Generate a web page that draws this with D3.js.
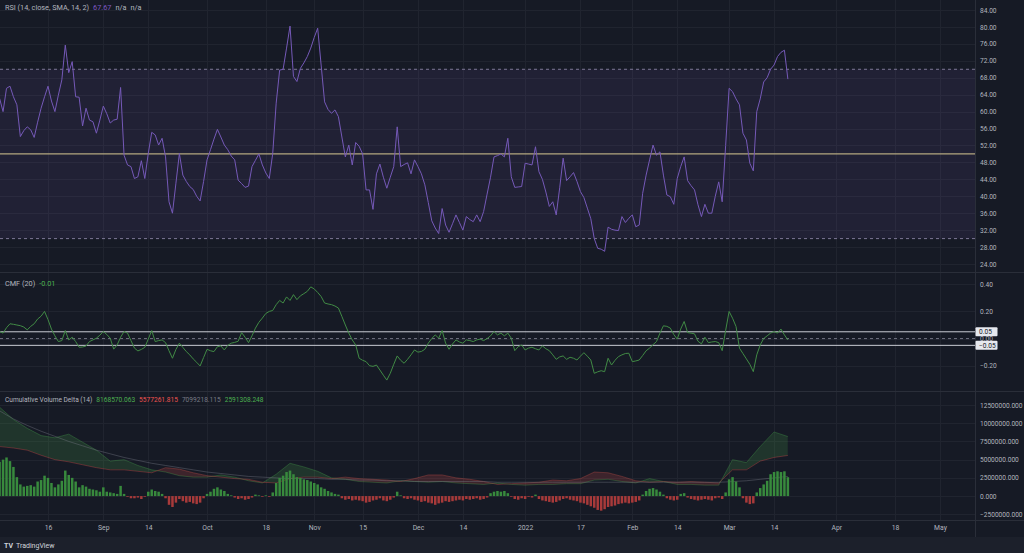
<!DOCTYPE html>
<html><head><meta charset="utf-8">
<script src="https://cdn.jsdelivr.net/npm/d3@7"></script>
<style>html,body{margin:0;padding:0;background:#161a25;overflow:hidden}svg{display:block}</style>
</head><body><svg id="c" width="1024" height="553"></svg>
<script>
// ---------------- DATA ----------------
const startDate = "2021-08-02";
const endDate = "2022-03-18";

const rsiValues = [
63.1,60.0,65.5,66.0,63.5,61.6,54.1,55.5,56.4,55.7,
53.9,57.5,60.8,63.5,66.0,62.5,60.0,63.9,67.5,75.7,
69.2,71.8,63.5,63.4,56.6,60.8,58.0,57.6,54.9,58.0,
61.3,59.5,57.3,58.0,58.2,65.7,49.7,47.4,47.0,44.2,
44.6,48.4,44.2,50.1,55.1,54.5,52.1,53.7,49.3,38.7,
36.0,43.1,50.1,45.0,43.5,42.3,41.6,40.0,38.9,43.5,
48.6,51.0,53.5,55.8,54.0,52.1,51.0,49.5,48.6,43.8,
43.0,42.1,42.4,47.0,48.5,50.0,47.4,45.5,44.2,50.1,
62.0,69.8,70.0,75.0,80.2,68.3,67.1,70.2,71.5,73.0,
75.0,77.5,79.7,71.0,62.3,60.5,59.6,60.4,58.8,54.0,
49.3,52.1,47.4,52.7,51.8,50.0,41.5,41.5,36.9,45.3,
47.6,44.5,41.9,44.5,47.0,56.4,47.0,47.5,47.9,45.3,
48.6,47.0,45.3,42.7,38.5,34.2,32.5,31.2,37.1,33.2,
31.5,33.5,35.6,33.8,32.0,35.2,34.5,34.0,35.6,34.0,
36.4,40.5,44.5,49.3,49.6,50.0,49.3,53.7,44.6,42.1,
42.2,42.3,47.8,47.6,47.4,51.7,45.8,44.0,41.0,37.6,
38.7,35.6,42.0,49.0,43.7,44.6,45.6,43.5,41.1,39.7,
37.2,34.7,30.0,27.7,27.5,27.0,32.7,32.2,32.0,31.9,
35.2,33.8,34.8,35.6,32.8,33.2,40.7,45.0,48.6,52.1,
49.7,50.5,45.0,40.3,39.9,38.1,44.2,47.0,49.3,43.7,
42.5,41.5,38.0,35.2,38.1,36.0,36.0,40.0,43.4,38.7,
52.0,65.5,64.7,63.0,61.6,54.9,53.3,47.8,46.0,60.0,
63.0,67.0,68.0,70.0,71.0,73.0,74.0,74.5,67.67
];

const cmfValues = [
0.052,0.040,0.08,0.109,0.105,0.100,0.095,0.085,0.064,0.09,
0.109,0.144,0.165,0.2,0.14,0.07,0.02,-0.022,-0.015,0.059,
-0.01,0.01,-0.022,-0.064,-0.062,-0.055,-0.022,-0.01,0.003,0.025,
0.052,0.03,0.003,-0.078,-0.047,0.01,0.052,0.04,-0.015,-0.07,
-0.091,-0.08,-0.065,-0.004,0.059,-0.022,-0.015,-0.01,-0.03,-0.09,
-0.145,-0.08,-0.034,-0.065,-0.096,-0.12,-0.15,-0.175,-0.202,-0.14,
-0.079,-0.09,-0.096,-0.06,-0.054,-0.084,-0.05,-0.034,-0.028,-0.02,
0.044,0.01,-0.03,0.02,0.077,0.12,0.151,0.185,0.2,0.207,
0.25,0.281,0.262,0.307,0.281,0.324,0.287,0.315,0.331,0.348,
0.381,0.366,0.34,0.31,0.262,0.255,0.25,0.24,0.225,0.163,
0.1,0.04,-0.01,-0.047,-0.145,-0.16,-0.17,-0.2,-0.205,-0.195,
-0.232,-0.27,-0.306,-0.256,-0.19,-0.128,-0.16,-0.182,-0.153,-0.12,
-0.084,-0.1,-0.095,-0.079,-0.034,0.0,0.027,0.003,0.059,-0.034,
-0.079,-0.04,-0.01,-0.025,-0.034,-0.01,-0.015,-0.022,-0.01,-0.004,
-0.015,0.0,0.02,0.052,0.027,0.04,0.02,0.04,0.003,-0.089,
-0.06,-0.047,-0.084,-0.07,-0.064,-0.075,-0.084,-0.054,-0.075,-0.089,
-0.12,-0.153,-0.135,-0.128,-0.153,-0.138,-0.145,-0.158,-0.13,-0.104,
-0.13,-0.158,-0.256,-0.245,-0.237,-0.244,-0.145,-0.195,-0.16,-0.133,
-0.12,-0.11,-0.108,-0.17,-0.165,-0.158,-0.125,-0.09,-0.07,-0.045,
-0.022,0.04,0.094,0.09,0.077,0.03,-0.004,0.07,0.126,0.044,
0.04,0.035,-0.02,-0.039,0.01,-0.03,-0.025,-0.022,-0.03,-0.089,
0.06,0.2,0.15,0.089,-0.071,-0.11,-0.15,-0.19,-0.244,-0.12,
-0.047,0.0,0.02,0.04,0.052,0.04,0.07,0.027,-0.01
];

// cumulative volume delta histogram, in millions
const cvdDeltaM = [
4.7,5.0,5.3,4.8,4.0,2.6,1.6,1.3,1.4,1.5,
1.3,2.0,2.2,2.8,2.5,1.8,1.2,1.6,2.1,3.5,
2.9,2.5,2.0,1.2,1.5,1.3,1.0,0.9,0.8,0.6,
1.2,0.6,0.5,0.4,0.3,1.4,0.3,-0.1,-0.3,-0.3,
-0.2,-0.4,-0.1,0.6,0.9,0.7,0.6,0.3,-0.3,-1.2,
-1.5,-0.9,-0.4,-0.7,-0.9,-0.8,-1.0,-1.1,-0.9,-0.3,
0.3,0.6,1.0,1.2,0.9,0.7,0.3,0.1,-0.2,-0.4,
-0.3,-0.5,-0.4,-0.2,0.2,0.1,-0.1,0.1,-0.1,0.5,
1.8,2.5,2.8,3.3,3.5,3.0,2.6,2.5,2.3,2.2,
2.0,1.8,1.6,1.2,1.0,0.7,0.5,0.3,0.2,-0.3,
-0.5,-0.4,-0.6,-0.5,-0.6,-0.7,-0.9,-0.8,-0.6,-0.5,
-0.3,-0.6,-0.7,-0.5,-0.2,0.6,0.1,-0.3,-0.4,-0.3,
-0.5,-0.6,-0.8,-0.7,-0.9,-1.0,-1.2,-1.0,-0.9,-0.7,
-0.8,-0.7,-0.6,-0.5,-0.6,-0.4,-0.5,-0.4,-0.3,-0.5,
-0.4,-0.2,0.4,0.6,0.7,0.6,0.7,0.4,-0.1,-0.4,
-0.5,-0.3,-0.4,-0.1,-0.2,0.2,-0.4,-0.6,-0.7,-0.8,
-0.9,-0.8,-0.6,-0.4,-0.3,-0.5,-0.6,-0.7,-0.9,-1.0,
-1.2,-1.4,-1.6,-1.9,-2.0,-1.8,-1.5,-1.4,-1.3,-1.1,
-1.0,-0.9,-1.0,-0.9,-0.8,-0.6,0.2,0.7,1.0,1.1,
0.9,0.6,0.2,-0.3,-0.5,-0.6,-0.5,0.3,0.4,-0.2,
-0.4,-0.5,-0.6,-0.5,-0.4,-0.5,-0.6,-0.3,-0.2,-0.4,
0.5,2.3,2.6,2.0,1.2,-0.3,-0.9,-1.1,-1.0,0.5,
1.1,1.6,2.1,3.0,3.3,3.4,3.3,3.4,2.59
];

// cloud lines (millions), sampled on these day offsets from startDate
const bandDay = [0,4,8,12,16,20,24,28,32,36,40,44,48,52,56,60,64,68,72,76,80,84,88,92,96,100,104,108,112,116,120,124,128,132,136,140,144,148,152,156,160,164,168,172,176,180,184,188,192,196,200,204,208,212,216,220,224,228];
const bandUpperM = [12.2,10.5,9.3,8.3,8.0,8.5,7.4,6.3,4.8,5.0,4.2,3.6,3.3,2.8,2.6,2.6,2.9,2.6,2.1,1.8,3.0,4.5,4.0,3.4,2.5,2.3,2.0,1.9,1.8,2.1,2.0,1.9,2.0,1.8,1.7,1.6,1.8,1.6,1.5,1.6,1.6,1.7,1.7,2.2,2.3,2.0,1.8,2.4,2.0,1.6,1.6,1.5,1.5,5.0,4.6,6.8,8.8,8.17];
const bandLowerM = [6.8,6.6,6.3,5.6,5.0,4.7,4.3,3.9,3.6,3.6,3.4,3.2,3.9,3.7,3.2,2.8,2.6,2.4,2.3,1.9,1.8,2.4,2.6,2.6,2.4,2.6,2.4,2.3,2.2,2.0,2.4,2.9,2.9,2.5,2.3,2.0,1.6,1.7,1.8,1.9,2.2,2.1,2.4,3.3,3.2,2.7,2.1,1.9,2.0,1.9,2.0,1.9,1.8,3.6,3.6,4.8,5.3,5.58];
const bandMidM = [11.7,10.6,9.7,8.9,8.2,7.5,6.9,6.3,5.8,5.3,4.9,4.5,4.2,3.9,3.6,3.3,3.1,2.9,2.7,2.6,2.5,2.4,2.4,2.4,2.3,2.3,2.2,2.2,2.1,2.1,2.0,2.0,2.0,2.0,2.0,2.0,1.9,1.9,1.9,1.9,1.9,1.9,1.9,1.9,1.9,1.9,1.9,1.9,1.9,1.9,1.9,1.9,1.9,2.0,2.1,2.3,2.5,2.7];

const tickDates = ["2021-08-16","2021-09-01","2021-09-14","2021-10-01","2021-10-18","2021-11-01","2021-11-15","2021-12-01","2021-12-14","2022-01-01","2022-01-17","2022-02-01","2022-02-14","2022-03-01","2022-03-14","2022-04-01","2022-04-18","2022-05-01"];
const tickLabels = ["16","Sep","14","Oct","18","Nov","15","Dec","14","2022","17","Feb","14","Mar","14","Apr","18","May"];

const rsiTicks = [24,28,32,36,40,44,48,52,56,60,64,68,72,76,80,84];
const cmfTicks = [-0.2,0,0.2,0.4];
const cvdTicks = [-2500000,0,2500000,5000000,7500000,10000000,12500000];

const rsiLegend = [["RSI (14, close, SMA, 14, 2)","#b2b5be"],["67.67","#7e57c2"],["n/a","#b2b5be"],["n/a","#b2b5be"]];
const cmfLegend = [["CMF (20)","#b2b5be"],["-0.01","#4caf50"]];
const cvdLegend = [["Cumulative Volume Delta (14)","#b2b5be"],["8168570.063","#4caf50"],["5577261.815","#ef5350"],["7099218.115","#787b86"],["2591308.248","#4caf50"]];

// ---------------- LAYOUT ----------------
const W = 1024, H = 553, PR = 975;
const FONT = "Roboto, 'Liberation Sans', sans-serif";
const panes = {rsi:[0,272], cmf:[273,391], cvd:[392,520]};
const svg = d3.select("#c");
const parse = d3.utcParse("%Y-%m-%d");
const days = d3.utcDay.range(parse(startDate), d3.utcDay.offset(parse(endDate),1));

const x = d3.scaleUtc().domain([parse("2021-08-16"), parse("2022-05-01")]).range([48, 940]);
const dayW = x(d3.utcDay.offset(parse("2021-08-16"),1)) - x(parse("2021-08-16"));

const yR = d3.scaleLinear().domain([24,84]).range([264,10]);
const yC = d3.scaleLinear().domain([-0.2,0.4]).range([365.7,284.3]);
const yV = d3.scaleLinear().domain([-2500000,12500000]).range([514.3,405]);

svg.append("rect").attr("width",W).attr("height",H).attr("fill","#161a25");
svg.append("rect").attr("x",0).attr("y",537).attr("width",W).attr("height",16).attr("fill","#1c202b");

const defs = svg.append("defs");
Object.entries(panes).forEach(([k,[t,b]])=>{
  defs.append("clipPath").attr("id","clip-"+k).append("rect").attr("x",0).attr("y",t).attr("width",PR).attr("height",b-t);
});

const gridCol = "#20242f";
svg.append("g").selectAll("line").data(tickDates).join("line")
  .attr("x1",d=>Math.round(x(parse(d)))+0.5).attr("x2",d=>Math.round(x(parse(d)))+0.5)
  .attr("y1",0).attr("y2",520).attr("stroke",gridCol).attr("stroke-width",1);
function hgrid(scale, ticks){
  svg.append("g").selectAll("line").data(ticks).join("line")
    .attr("x1",0).attr("x2",PR).attr("y1",d=>Math.round(scale(d))+0.5).attr("y2",d=>Math.round(scale(d))+0.5)
    .attr("stroke",gridCol).attr("stroke-width",1);
}
hgrid(yR, rsiTicks); hgrid(yC, cmfTicks); hgrid(yV, cvdTicks);

// ---------------- RSI ----------------
const gR = svg.append("g").attr("clip-path","url(#clip-rsi)");
gR.append("rect").attr("x",0).attr("width",PR).attr("y",yR(70)).attr("height",yR(30)-yR(70)).attr("fill","rgba(126,87,194,0.11)");
[70,30].forEach(v=>gR.append("line").attr("x1",0).attr("x2",PR).attr("y1",yR(v)).attr("y2",yR(v))
  .attr("stroke","#7d7896").attr("stroke-dasharray","3,3").attr("stroke-width",1));
gR.append("line").attr("x1",0).attr("x2",PR).attr("y1",yR(50)).attr("y2",yR(50)).attr("stroke","#b3a77f").attr("stroke-width",1.3);
gR.append("path").datum(rsiValues).attr("fill","none").attr("stroke","#7559b8").attr("stroke-width",1)
  .attr("d", d3.line().x((d,i)=>x(days[i])).y(d=>yR(d)));

// ---------------- CMF ----------------
const gC = svg.append("g").attr("clip-path","url(#clip-cmf)");
gC.append("line").attr("x1",0).attr("x2",PR).attr("y1",yC(0)).attr("y2",yC(0)).attr("stroke","#6f7280").attr("stroke-dasharray","3,3");
[0.05,-0.05].forEach(v=>gC.append("line").attr("x1",0).attr("x2",PR).attr("y1",yC(v)).attr("y2",yC(v)).attr("stroke","#c9ccd4").attr("stroke-width",1));
gC.append("path").datum(cmfValues).attr("fill","none").attr("stroke","#418a45").attr("stroke-width",1)
  .attr("d", d3.line().x((d,i)=>x(days[i])).y(d=>yC(d)));

// ---------------- CVD ----------------
const gV = svg.append("g").attr("clip-path","url(#clip-cvd)");
const band = bandDay.map((d,i)=>({x:x(days[d]), a:yV(bandUpperM[i]*1e6), b:yV(bandLowerM[i]*1e6), m:yV(bandMidM[i]*1e6)}));
defs.append("clipPath").attr("id","above-b").append("path").datum(band)
  .attr("d", d3.area().x(d=>d.x).y0(panes.cvd[0]).y1(d=>d.b));
defs.append("clipPath").attr("id","below-b").append("path").datum(band)
  .attr("d", d3.area().x(d=>d.x).y0(d=>d.b).y1(panes.cvd[1]));
const between = d3.area().x(d=>d.x).y0(d=>d.a).y1(d=>d.b);
gV.append("g").attr("clip-path","url(#above-b)").append("path").datum(band).attr("d",between).attr("fill","rgba(76,175,80,0.18)");
gV.append("g").attr("clip-path","url(#below-b)").append("path").datum(band).attr("d",between).attr("fill","rgba(239,83,80,0.18)");
gV.append("path").datum(band).attr("fill","none").attr("stroke","rgba(76,175,80,0.3)").attr("stroke-width",1)
  .attr("d", d3.line().x(d=>d.x).y(d=>d.a));
gV.append("path").datum(band).attr("fill","none").attr("stroke","rgba(239,83,80,0.3)").attr("stroke-width",1)
  .attr("d", d3.line().x(d=>d.x).y(d=>d.b));
gV.append("path").datum(band).attr("fill","none").attr("stroke","rgba(120,123,134,0.4)").attr("stroke-width",1)
  .attr("d", d3.line().curve(d3.curveMonotoneX).x(d=>d.x).y(d=>d.m));
const bw = dayW*0.72;
gV.append("g").selectAll("rect").data(cvdDeltaM).join("rect")
  .attr("x",(d,i)=>x(days[i])-bw/2).attr("width",bw)
  .attr("y",d=>Math.min(yV(d*1e6),yV(0))).attr("height",d=>Math.abs(yV(d*1e6)-yV(0)))
  .attr("fill",d=>d>=0?"#388a3d":"#a83a3a");

// ---------------- separators ----------------
[272.5,391.5,520.5].forEach(y=>svg.append("line").attr("x1",0).attr("x2",W).attr("y1",y).attr("y2",y).attr("stroke","#2a2e39"));
svg.append("line").attr("x1",PR+0.5).attr("x2",PR+0.5).attr("y1",0).attr("y2",537).attr("stroke","#2a2e39");

// ---------------- axes ----------------
function rightAxis(scale, ticks, fmt){
  const g = svg.append("g").attr("transform",`translate(${PR+5},0)`)
    .call(d3.axisRight(scale).tickValues(ticks).tickSize(0).tickPadding(0).tickFormat(fmt));
  g.select(".domain").remove();
  g.selectAll("text").attr("fill","#b2b5be").attr("font-size",6.6).attr("font-family",FONT);
  return g;
}
rightAxis(yR, rsiTicks, d3.format(".2f"));
rightAxis(yC, cmfTicks, d3.format(".2f"));
rightAxis(yV, cvdTicks, d3.format(".3f"));

[[0.05,"0.05"],[-0.05,"\u22120.05"]].forEach(([v,t])=>{
  const g = svg.append("g");
  g.append("rect").attr("x",PR+0.5).attr("y",yC(v)-4.5).attr("width",22).attr("height",9).attr("fill","#e6e8ee").attr("rx",1);
  g.append("text").attr("x",PR+4).attr("y",yC(v)).attr("dy","0.35em").attr("fill","#131722").attr("font-size",6.6).attr("font-family",FONT).text(t);
});

const gx = svg.append("g").attr("transform","translate(0,529)")
  .call(d3.axisBottom(x).tickValues(tickDates.map(parse)).tickSize(0).tickPadding(0).tickFormat((d,i)=>tickLabels[i]));
gx.select(".domain").remove();
gx.selectAll("text").attr("fill","#b2b5be").attr("font-size",6.8).attr("font-family",FONT).attr("dy","0.1em");

// ---------------- legends ----------------
function legend(items, y, size){
  let cx = 5;
  items.forEach(([t,c])=>{
    const el = svg.append("text").attr("x",cx).attr("y",y).attr("fill",c).attr("font-size",size).attr("font-family",FONT).text(t);
    cx += el.node().getComputedTextLength() + 4;
  });
}
legend(rsiLegend, 9.5, 7.3);
legend(cmfLegend, 285.5, 7.3);
legend(cvdLegend, 401.5, 6.6);

svg.append("text").attr("x",4).attr("y",548).attr("fill","#d1d4dc").attr("font-size",7).attr("font-weight","bold").attr("font-family",FONT).text("TV");
svg.append("text").attr("x",16).attr("y",548).attr("fill","#d1d4dc").attr("font-size",7).attr("font-family",FONT).text("TradingView");
</script></body></html>
